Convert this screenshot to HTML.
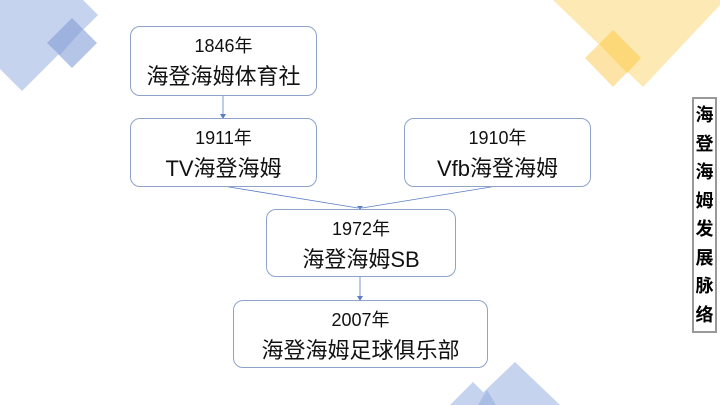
<!DOCTYPE html><html><head><meta charset="utf-8"><style>
body{margin:0;width:720px;height:405px;overflow:hidden;background:#fff;position:relative;font-family:"Liberation Sans","Noto Sans CJK SC",sans-serif}
.b{position:absolute;border:1px solid #8fa3c8;border-radius:10px;background:#fff;text-align:center;color:#111;box-sizing:border-box}
.y{font-size:18px;margin-top:7px;line-height:24px}.n{font-size:22px;line-height:30px;margin-top:4px}
.s{position:absolute;left:692px;top:97px;width:25px;height:236px;border:2px solid #999;box-sizing:border-box;background:#fff;font-weight:bold;font-size:18px;line-height:28.5px;text-align:center;padding-top:2px}
</style></head><body>
<svg width="720" height="405" style="position:absolute;left:0;top:0">
<polygon points="0,0 83,0 98,15 22,91 0,69" fill="#c5d3ee"/>
<polygon points="72,18 97,43 72,68 47,43" fill="#b4c5e8"/>
<polygon points="72,18 83,29 60,55 47,43" fill="#9db2df"/>
<polygon points="553,0 720,0 720,5 643,87" fill="#fde9b4"/>
<polygon points="613,30 641,58 613,87 585,58" fill="#fde4a6"/>
<polygon points="613,30 641,58 627,73 599,44" fill="#fdd878"/>
<polygon points="515,362 560,405 470,405" fill="#c5d3ee"/>
<polygon points="473,382 496,405 450,405" fill="#c5d3ee"/>
<polygon points="487,390 496,405 478,405" fill="#a9bde5"/>
<g stroke="#5b7fc7" stroke-width="0.8" fill="#5b7fc7">
<line x1="223" y1="95" x2="223" y2="116"/><polygon points="220,114 226,114 223,119" stroke="none"/>
<line x1="223" y1="186" x2="358" y2="208"/><line x1="497" y1="186" x2="362" y2="208"/><polygon points="357,206 363,206 360,210" stroke="none"/>
<line x1="360" y1="276" x2="360" y2="298"/><polygon points="357,296 363,296 360,301" stroke="none"/>
</g></svg>
<div class="b" style="left:130px;top:26px;width:187px;height:70px"><div class="y">1846年</div><div class="n">海登海姆体育社</div></div>
<div class="b" style="left:130px;top:118px;width:187px;height:69px"><div class="y">1911年</div><div class="n">TV海登海姆</div></div>
<div class="b" style="left:404px;top:118px;width:187px;height:69px"><div class="y">1910年</div><div class="n">Vfb海登海姆</div></div>
<div class="b" style="left:266px;top:209px;width:190px;height:68px"><div class="y">1972年</div><div class="n">海登海姆SB</div></div>
<div class="b" style="left:233px;top:300px;width:255px;height:68px"><div class="y">2007年</div><div class="n">海登海姆足球俱乐部</div></div>
<div class="s">海<br>登<br>海<br>姆<br>发<br>展<br>脉<br>络</div>
</body></html>
